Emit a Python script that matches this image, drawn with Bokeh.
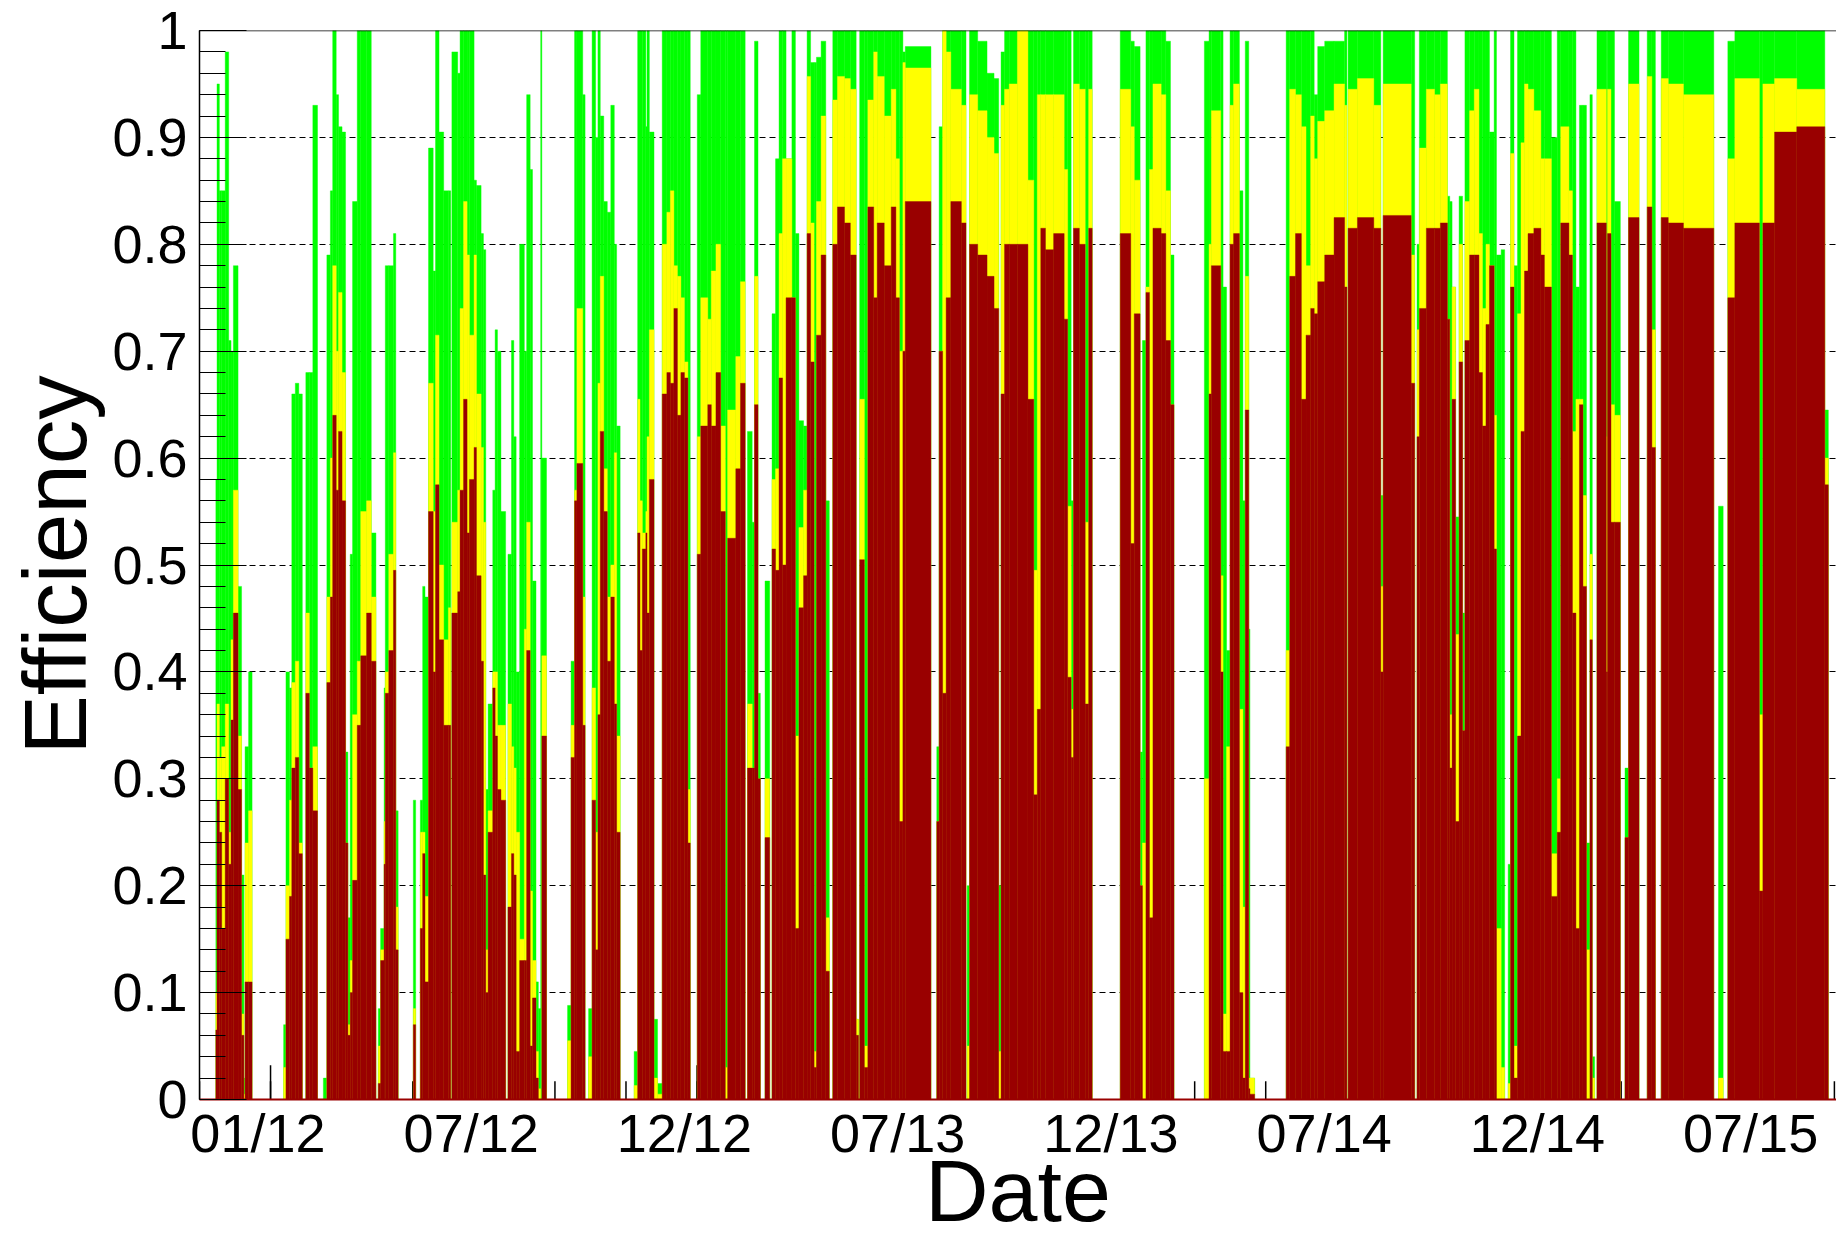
from bokeh.plotting import figure
from bokeh.models import ColumnDataSource, FixedTicker, Span, Range1d, Title
from bokeh.embed import file_html
from bokeh.resources import INLINE

# Days counted from 1 Nov 2011 (left edge of the axis)
day_start = [14, 15, 17, 19, 22, 25, 27, 29, 33, 36, 38, 39, 42, 72, 74, 77, 79, 82, 85, 91,
             94, 97, 106, 109, 112, 114, 117, 119, 122, 125, 127, 129, 131, 135, 138, 143, 147, 153, 155, 158,
             159, 162, 166, 168, 183, 189, 191, 193, 196, 200, 202, 205, 209, 213, 216, 221, 223, 226, 229, 231,
             235, 237, 241, 243, 245, 247, 251, 253, 255, 258, 264, 267, 269, 271, 274, 278, 280, 283, 285, 288,
             290, 292, 293, 315, 318, 321, 323, 328, 333, 336, 339, 341, 343, 346, 349, 352, 355, 357, 372, 375,
             377, 379, 382, 383, 385, 389, 392, 396, 400, 403, 406, 409, 412, 415, 418, 426, 429, 435, 438, 442,
             446, 450, 452, 459, 463, 469, 473, 475, 478, 484, 490, 493, 496, 499, 502, 507, 510, 513, 517, 520,
             523, 526, 528, 532, 536, 542, 546, 552, 557, 562, 565, 569, 572, 577, 580, 586, 592, 596, 599, 602,
             604, 631, 633, 636, 639, 643, 652, 657, 659, 666, 674, 680, 684, 686, 689, 693, 700, 709, 714, 717,
             720, 724, 731, 740, 743, 746, 748, 753, 758, 761, 788, 797, 800, 805, 807, 810, 813, 816, 823, 827,
             831, 860, 864, 866, 874, 876, 879, 882, 885, 890, 893, 895, 898, 899, 930, 933, 938, 943, 947, 951,
             954, 957, 963, 971, 980, 983, 991, 1005, 1011, 1013, 1037, 1042, 1044, 1050, 1057, 1062, 1068, 1070, 1072, 1075,
             1078, 1081, 1083, 1087, 1091, 1095, 1098, 1101, 1104, 1108, 1110, 1114, 1120, 1122, 1125, 1128, 1131, 1134, 1137, 1142,
             1148, 1151, 1157, 1162, 1165, 1172, 1175, 1178, 1181, 1184, 1187, 1190, 1192, 1196, 1204, 1205, 1208, 1211, 1220, 1223,
             1239, 1243, 1251, 1257, 1270, 1300, 1308, 1314, 1335, 1338, 1348, 1367, 1391]
day_end = [15, 17, 19, 22, 25, 27, 29, 33, 36, 38, 39, 42, 45, 74, 77, 79, 82, 85, 88, 94,
           97, 101, 109, 112, 114, 117, 119, 122, 125, 127, 129, 131, 135, 138, 143, 147, 151, 155, 158, 159,
           162, 166, 168, 170, 185, 191, 193, 196, 200, 202, 205, 209, 213, 215, 221, 223, 226, 229, 231, 235,
           237, 241, 243, 245, 247, 251, 253, 255, 258, 262, 267, 269, 271, 274, 278, 280, 283, 285, 288, 290,
           292, 293, 297, 318, 321, 323, 328, 330, 336, 339, 341, 343, 346, 349, 352, 355, 357, 360, 375, 377,
           379, 382, 383, 385, 389, 392, 396, 400, 403, 406, 409, 412, 415, 418, 420, 429, 435, 438, 442, 446,
           450, 452, 459, 463, 467, 473, 475, 478, 480, 488, 493, 496, 499, 502, 507, 510, 513, 517, 520, 523,
           526, 528, 532, 536, 539, 546, 552, 557, 562, 564, 569, 572, 577, 580, 586, 592, 596, 599, 602, 604,
           626, 633, 636, 639, 643, 652, 656, 659, 666, 674, 680, 684, 686, 689, 693, 700, 709, 714, 717, 720,
           724, 731, 740, 743, 746, 748, 753, 758, 761, 764, 797, 800, 805, 807, 810, 813, 816, 823, 827, 831,
           834, 864, 866, 874, 876, 879, 882, 885, 890, 893, 895, 898, 899, 903, 933, 938, 943, 947, 951, 954,
           957, 963, 971, 980, 982, 991, 1005, 1011, 1013, 1037, 1040, 1044, 1050, 1057, 1062, 1068, 1070, 1072, 1075, 1078,
           1081, 1083, 1087, 1091, 1095, 1098, 1101, 1104, 1108, 1110, 1114, 1117, 1122, 1125, 1128, 1131, 1134, 1137, 1142, 1148,
           1151, 1157, 1162, 1165, 1172, 1175, 1178, 1181, 1184, 1187, 1190, 1192, 1194, 1204, 1205, 1208, 1211, 1216, 1223, 1232,
           1243, 1246, 1257, 1270, 1296, 1304, 1314, 1335, 1338, 1348, 1367, 1391, 1394]
eff_red = [.065, .28, .25, .16, .30, .22, .355, .455, .29, .06, 0, .11, .11, 0, .15, .19, .31, .32, .23, .38,
           .31, .27, 0, .39, .47, .64, .57, .625, .56, .24, .06, .10, .205, .35, .415, .455, .41, .015, .13, .22,
           .38, .42, .495, .14, .07, .16, .23, .11, .55, .40, .575, .43, .35, .35, .455, .475, .57, .655, .53, .58,
           .61, .49, .41, .21, .10, .25, .385, .34, .29, .28, .18, .23, .21, .045, .13, .13, .42, .05, .095, .02,
           0, 0, .34, 0, .32, .56, .595, .35, 0, .28, .14, .36, .625, .55, .41, .47, .37, .25, 0, .53,
           .42, .515, .53, .455, .58, 0, 0, .66, .68, .67, .74, .64, .68, .675, .24, .51, .63, .65, .63, .68,
           .55, 0, .525, .59, .67, .31, .31, .65, .30, .245, .515, .495, .675, .50, .75, .75, .16, .46, .49, .81,
           .69, .03, .715, .79, .12, .80, .835, .82, .79, .06, .505, .03, .835, .75, .82, .78, .835, .75, .26, .70,
           .84, .26, .70, .38, .75, .84, .82, 0, .80, .79, .77, .74, 0, .66, .80, .80, .80, .655, .285, .365,
           .815, .795, .81, .73, .395, .32, .815, .80, .37, .815, .81, .52, .735, .20, 0, .755, .17, .815, .81, .71,
           .65, 0, .66, .78, .40, .045, .045, .80, .81, .10, .02, .645, .01, .005, .33, .77, .81, .655, .715, .74,
           .735, .765, .79, .825, .76, .815, .825, .815, .40, .827, .67, .62, .74, .815, .815, .82, .73, .31, .655, .26,
           .69, .345, .71, .79, .79, .68, .63, .725, .78, .515, 0, 0, 0, .76, .02, .34, .625, .775, .81, .815,
           .79, .76, .19, .25, .82, .79, .455, .16, .65, .48, 0, .43, 0, .82, .40, .81, .54, .54, .245, .825,
           .835, .61, .825, .82, .815, 0, .75, .82, .195, .82, .905, .91, .575]
eff_yellow = [.10, .37, .32, .33, .37, .25, .43, .57, .34, .08, .005, .24, .27, .03, .20, .28, .39, .41, .24, .455,
              .31, .33, 0, .47, .60, .78, .70, .755, .68, .24, .07, .13, .36, .41, .55, .56, .47, .05, .14, .26,
              .40, .51, .605, .18, .085, .25, .25, .19, .67, .55, .715, .50, .43, .46, .54, .57, .74, .84, .79, .715,
              .79, .66, .61, .54, .14, .27, .40, .40, .35, .35, .37, .33, .31, .25, .15, .44, .54, .195, .13, .045,
              .01, 0, .415, .055, .35, .57, .74, .47, .04, .385, .25, .67, .77, .59, .47, .50, .605, .34, .013, .655,
              .56, .53, .55, .62, .72, .02, .005, .80, .83, .85, .78, .77, .75, .69, .29, .62, .75, .73, .775, .80,
              .63, .03, .645, .695, .765, .37, .31, .77, .30, .30, .58, .59, .81, .88, .88, .75, .34, .535, .57, .957,
              .82, .045, .84, .92, .17, .935, .957, .955, .945, .075, .655, .05, .935, .98, .957, .92, .945, .88, .70, .97,
              .965, .26, .70, 1.0, .98, .945, .93, .05, .94, .925, .90, .885, .045, .93, .945, .95, 1.0, .86, .495, .94,
              .94, .94, .94, .87, .555, .365, .95, .945, .54, .945, .945, .91, .86, .20, .24, .76, .87, .95, .94, .85,
              .65, .30, .80, .925, .49, .08, .33, .93, .95, .365, .18, .77, .02, .02, .42, .945, .94, .91, .78, .92,
              .88, .915, .925, .95, .93, .945, .955, .93, .48, .95, .79, .72, .89, .945, .94, .95, .73, .36, .76, .435,
              .80, .345, .84, .925, .945, .81, .74, .80, .78, .64, .16, .03, .015, .885, .05, .735, .895, .95, .945, .925,
              .88, .88, .23, .30, .91, .85, .625, .655, .655, .565, .14, .51, .02, .945, .62, .945, .65, .64, .245, .95,
              .957, .72, .955, .95, .94, .02, .88, .955, .36, .95, .955, .945, .60]
eff_green = [.58, .95, .85, .85, .98, .71, .70, .78, .48, .21, .02, .33, .40, .07, .40, .385, .66, .67, .66, .68,
             .68, .93, .02, .79, .85, 1.0, .94, .91, .905, .325, .17, .51, .84, 1.0, 1.0, 1.0, .53, .085, .16, .385,
             .78, .78, .81, .27, .28, .28, .48, .47, .89, .775, 1.0, .905, .85, .85, .98, .96, 1.0, 1.0, 1.0, 1.0,
             .86, .855, .81, .795, .29, .37, .57, .72, .70, .55, .51, .71, .62, .40, .80, .70, .94, .87, .485, .11,
             .085, 1.0, .60, .088, .41, 1.0, 1.0, .94, .085, 1.0, .90, 1.0, .92, .84, .83, .93, .80, .63, .045, 1.0,
             1.0, 1.0, .91, 1.0, .905, .075, .015, 1.0, 1.0, 1.0, 1.0, 1.0, 1.0, 1.0, 1.0, .94, 1.0, 1.0, 1.0, 1.0,
             1.0, 1.0, 1.0, 1.0, 1.0, .625, .54, .99, .38, .485, .735, .88, 1.0, 1.0, .88, 1.0, .81, .635, .63, 1.0,
             .97, .97, .975, .99, .56, 1.0, 1.0, 1.0, 1.0, .075, 1.0, 1.0, 1.0, 1.0, 1.0, 1.0, 1.0, 1.0, 1.0, .98,
             .985, .33, .91, 1.0, 1.0, 1.0, 1.0, .20, 1.0, .99, .96, .955, .20, .98, 1.0, 1.0, 1.0, 1.0, 1.0, 1.0,
             1.0, 1.0, 1.0, 1.0, 1.0, .56, 1.0, 1.0, 1.0, 1.0, 1.0, .99, .985, .325, .71, 1.0, 1.0, 1.0, 1.0, .99,
             .79, .99, 1.0, 1.0, 1.0, .76, .42, 1.0, 1.0, .85, .56, .99, .44, .02, 1.0, 1.0, 1.0, 1.0, 1.0, 1.0,
             .94, .985, .99, .99, 1.0, 1.0, 1.0, 1.0, .565, 1.0, 1.0, .80, 1.0, 1.0, 1.0, 1.0, .845, .84, .76, .545,
             .845, .455, 1.0, 1.0, 1.0, 1.0, 1.0, 1.0, .905, 1.0, .79, .795, .22, 1.0, .78, 1.0, 1.0, 1.0, 1.0, 1.0,
             1.0, 1.0, .90, 1.0, 1.0, 1.0, 1.0, .76, .93, .93, .24, .94, .04, 1.0, 1.0, 1.0, 1.0, .84, .31, 1.0,
             1.0, 1.0, 1.0, 1.0, 1.0, .555, .99, 1.0, 1.0, 1.0, 1.0, 1.0, .645]

x_tick_days = [50, 232.5, 415, 597.5, 780, 962.5, 1145, 1327.5]
x_tick_labels = ["01/12", "07/12", "12/12", "07/13", "12/13", "07/14", "12/14", "07/15"]
y_ticks = [0.0, 0.1, 0.2, 0.3, 0.4, 0.5, 0.6, 0.7, 0.8, 0.9, 1.0]
y_tick_labels = ["0", "0.1", "0.2", "0.3", "0.4", "0.5", "0.6", "0.7", "0.8", "0.9", "1"]
# time-axis tick marks (every ~2 months, major every ~half year)
axis_minor_days = [0, 60.8, 121.7, 182.5, 243.3, 304.2, 365, 425.8, 486.7, 547.5, 608.3, 669.2, 730,
                   790.8, 851.7, 912.5, 973.3, 1034.2, 1095, 1155.8, 1216.7, 1277.5, 1338.3, 1399.2]
axis_major_days = [60.8, 243.3, 425.8, 608.3, 790.8, 973.3, 1155.8, 1338.3]

FONT = "Liberation Sans"

src = ColumnDataSource(dict(left=day_start, right=day_end, red=eff_red,
                            yellow=eff_yellow, green=eff_green))

p = figure(width=1836, height=1242, output_backend="svg", toolbar_location=None,
           x_range=Range1d(0, 1401), y_range=Range1d(0, 1),
           min_border_left=199, min_border_right=0, min_border_top=30, min_border_bottom=143)
p.outline_line_color = None
p.background_fill_color = "white"
p.border_fill_color = "white"

# tick marks of the time axis, drawn beneath the bars
p.segment(x0=axis_minor_days, y0=[0] * len(axis_minor_days), x1=axis_minor_days,
          y1=[0.017] * len(axis_minor_days), line_color="black", line_width=1.5, level="underlay")
p.segment(x0=axis_major_days, y0=[0] * len(axis_major_days), x1=axis_major_days,
          y1=[0.032] * len(axis_major_days), line_color="black", line_width=1.5, level="underlay")

p.quad(left="left", right="right", bottom=0, top="green", source=src,
       fill_color="#00FF00", line_color="#00FF00", line_width=0.4)
p.quad(left="left", right="right", bottom=0, top="yellow", source=src,
       fill_color="#FFFF00", line_color="#FFFF00", line_width=0.4)
p.quad(left="left", right="right", bottom=0, top="red", source=src,
       fill_color="#990000", line_color="#990000", line_width=0.4)

# grid
p.xgrid.visible = False
p.ygrid.ticker = FixedTicker(ticks=y_ticks[1:-1])
p.ygrid.grid_line_color = "black"
p.ygrid.grid_line_dash = "6 4"
p.ygrid.grid_line_width = 1

# y axis
yax = p.yaxis[0]
yax.ticker = FixedTicker(ticks=y_ticks, minor_ticks=[i * 0.02 for i in range(51)])
yax.major_label_overrides = dict(zip(y_ticks, y_tick_labels))
yax.major_tick_in = 47
yax.major_tick_out = 0
yax.minor_tick_in = 26
yax.minor_tick_out = 0
yax.major_tick_line_color = "black"
yax.minor_tick_line_color = "black"
yax.axis_line_color = "black"
yax.axis_line_width = 1.5
yax.major_label_text_font = FONT
yax.major_label_text_font_size = "54px"
yax.major_label_text_color = "black"
yax.major_label_standoff = 12
yax.axis_label = "Efficiency"
yax.axis_label_text_font = FONT
yax.axis_label_text_font_size = "89px"
yax.axis_label_text_font_style = "normal"
yax.axis_label_text_color = "black"
yax.axis_label_standoff = 4

# x axis
xax = p.xaxis[0]
xax.ticker = FixedTicker(ticks=x_tick_days, minor_ticks=[])
xax.major_label_overrides = dict(zip(x_tick_days, x_tick_labels))
xax.major_tick_in = 0
xax.major_tick_out = 0
xax.minor_tick_in = 0
xax.minor_tick_out = 0
xax.axis_line_color = "#990000"
xax.axis_line_width = 2
xax.major_label_text_font = FONT
xax.major_label_text_font_size = "54px"
xax.major_label_text_color = "black"
xax.major_label_standoff = 3

# x-axis title placed in its own panel under the tick labels
p.add_layout(Title(text="Date", align="center", vertical_align="bottom", standoff=-54, offset=0,
                   text_font=FONT, text_font_size="88px", text_font_style="normal",
                   text_color="black"), "below")

p.add_layout(Span(location=1, dimension="width", line_color="black", line_width=1.5))

open("out.html", "w").write(file_html(p, INLINE))
